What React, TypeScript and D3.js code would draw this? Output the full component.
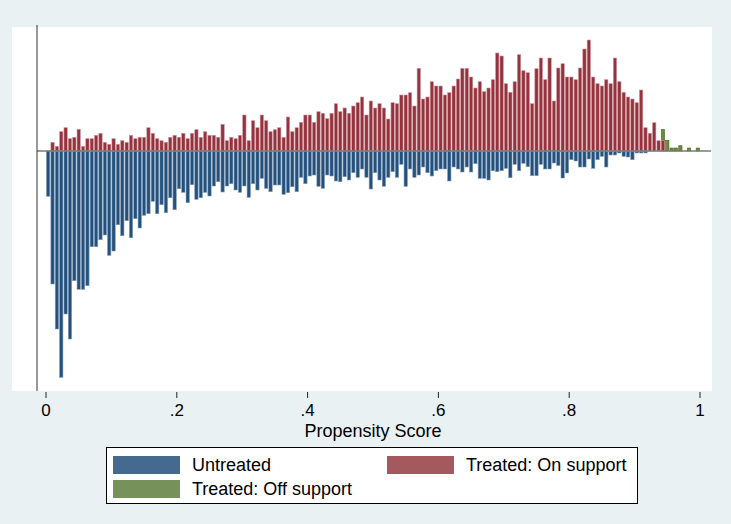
import React from 'react';
import * as d3 from 'd3';

// 150 propensity-score bins of width 1/150 over [0, 1]
const binCount = 150;

// Untreated frequencies (drawn below the zero line)
const untreated = [
  45.3, 133, 178, 226.3, 163, 188, 129.7, 138.3, 138.3, 134.7,
  95.7, 95.7, 88.7, 84, 104.3, 100, 73.7, 84.7, 69.7, 86.7,
  67.7, 77, 64.3, 62.7, 50.3, 62.7, 53.7, 61.7, 46.7, 58.7,
  37.7, 41.3, 51.7, 33.7, 48.3, 46.7, 41.3, 45, 35, 30.7,
  41, 35, 32.7, 39, 41.3, 35, 46.3, 32.7, 39, 27.3,
  37.3, 40.7, 34, 34, 43.3, 41.7, 35.7, 40.7, 26.3, 32.7,
  25, 24, 35.3, 37.3, 24, 25, 30, 30.7, 25.7, 29,
  21.7, 26.3, 18, 26.3, 38, 21.7, 29, 35.3, 26.3, 20.7,
  26.3, 13.3, 35.3, 18, 26.3, 24, 16, 21.7, 25, 19.7,
  18, 18, 30, 16, 18, 21, 16, 21, 12.7, 27.3,
  27.3, 29, 19.7, 20.7, 19.7, 17.3, 26.7, 13.3, 19.7, 12.3,
  15.7, 24.7, 24.7, 13.3, 18, 18, 12, 14.5, 27, 22,
  8.7, 10, 16, 16, 8, 17.3, 8.7, 5.3, 16, 4,
  4, 2, 5.3, 6, 8.7, 2, 2, 2, 0, 0,
  0, 0, 0, 0, 0, 0, 0, 0, 0, 0,
];

// Treated on support frequencies (drawn above the zero line)
const treatedOn = [
  0, 8.7, 4.7, 19.3, 23.3, 12.3, 13.7, 21.7, 4.7, 12.3,
  12.3, 15.7, 17.7, 8.7, 6.7, 12.3, 6.7, 10.3, 8.7, 15.7,
  12.3, 13.7, 13.7, 23.3, 17.7, 12.3, 10.3, 8.7, 13.7, 15.7,
  13.7, 17.7, 12.3, 17.7, 21.3, 13.7, 19.3, 15.7, 15.7, 13.7,
  26.7, 10.3, 13.7, 12.3, 15.7, 36, 10.3, 30.3, 23.3, 36,
  30.3, 19.3, 21.3, 23.3, 13.7, 34, 19.3, 23.3, 28.7, 36,
  36, 28.7, 39.3, 37.7, 32.3, 37.7, 47.3, 39.3, 43, 37.7,
  45, 48.3, 54, 36, 50, 43, 47.3, 43, 32, 48.3,
  47.3, 56, 56, 58.3, 45, 82.7, 52, 54, 69.3, 65,
  65, 56, 58.3, 65, 72, 82.7, 82.7, 74, 63, 69.3,
  59.3, 63, 71.3, 98, 95, 67.3, 58.7, 69.3, 96.3, 80.3,
  78.3, 47.3, 82.3, 93, 71.3, 93, 50, 83, 87.3, 74,
  74, 71.3, 83, 102, 111, 74, 67.3, 65, 71.3, 67.3,
  93, 69.3, 58.7, 54, 52, 48.3, 61, 23.3, 17.7, 28.3,
  10.3, 10.3, 0, 0, 0, 0, 0, 0, 0, 0,
];

// Treated off support frequencies (drawn above the zero line)
const treatedOff = [
  0, 0, 0, 0, 0, 0, 0, 0, 0, 0,
  0, 0, 0, 0, 0, 0, 0, 0, 0, 0,
  0, 0, 0, 0, 0, 0, 0, 0, 0, 0,
  0, 0, 0, 0, 0, 0, 0, 0, 0, 0,
  0, 0, 0, 0, 0, 0, 0, 0, 0, 0,
  0, 0, 0, 0, 0, 0, 0, 0, 0, 0,
  0, 0, 0, 0, 0, 0, 0, 0, 0, 0,
  0, 0, 0, 0, 0, 0, 0, 0, 0, 0,
  0, 0, 0, 0, 0, 0, 0, 0, 0, 0,
  0, 0, 0, 0, 0, 0, 0, 0, 0, 0,
  0, 0, 0, 0, 0, 0, 0, 0, 0, 0,
  0, 0, 0, 0, 0, 0, 0, 0, 0, 0,
  0, 0, 0, 0, 0, 0, 0, 0, 0, 0,
  0, 0, 0, 0, 0, 0, 0, 0, 0, 0,
  0, 21.7, 10.7, 3, 3, 5.3, 0, 3, 0, 3,
];

const xTicks = [0, 0.2, 0.4, 0.6, 0.8, 1];
const xTickLabels = ['0', '.2', '.4', '.6', '.8', '1'];
const xTitle = 'Propensity Score';
const legendLabels = ['Untreated', 'Treated: On support', 'Treated: Off support'];

const W = 731;
const H = 524;
const FONT = '"Liberation Sans", Arial, Helvetica, sans-serif';

const COLORS = {
  untreated: { fill: '#24507c', stroke: '#7f9bb8', legend: '#466a8f' },
  on: { fill: '#95323d', stroke: '#cc959b', legend: '#a4595f' },
  off: { fill: '#6b8a3e', stroke: '#4f6d27', legend: '#77915a' },
};

export default function App() {
  const x = d3.scaleLinear().domain([0, 1]).range([46, 700]);
  const y = d3.scaleLinear().domain([-240, 126]).range([391, 25]);
  const binW = 1 / binCount;
  const barFrac = 0.76;

  const bars = (vals: number[], sign: number, c: { fill: string; stroke: string }, key: string) =>
    vals.map((v, i) => {
      if (!v) return null;
      const x0 = x(i * binW + (binW * (1 - barFrac)) / 2);
      const x1 = x((i + 1) * binW - (binW * (1 - barFrac)) / 2);
      const ya = y(0);
      const yb = y(sign * v);
      return (
        <rect
          key={key + i}
          x={x0}
          y={Math.min(ya, yb)}
          width={x1 - x0}
          height={Math.abs(yb - ya)}
          fill={c.fill}
          stroke={c.stroke}
          strokeWidth={0.6}
        />
      );
    });

  return (
    <svg
      width={W}
      height={H}
      style={{ position: 'absolute', left: 0, top: 0, display: 'block' }}
      fontFamily={FONT}
    >
      <rect x={0} y={0} width={W} height={H} fill="#eaf1f3" />
      <rect x={12} y={27} width={700} height={364} fill="#ffffff" />

      {bars(untreated, -1, COLORS.untreated, 'u')}
      {bars(treatedOff, 1, COLORS.off, 'f')}
      {bars(treatedOn, 1, COLORS.on, 'o')}

      <line x1={37} x2={711} y1={y(0)} y2={y(0)} stroke="#7a7a7a" strokeWidth={1.5} />
      <line x1={37} x2={37} y1={y(126)} y2={y(-240)} stroke="#333" strokeWidth={1} />

      {xTicks.map((t, i) => (
        <g key={'t' + i}>
          <line x1={x(t)} x2={x(t)} y1={392} y2={398} stroke="#222" strokeWidth={1} />
          <text x={x(t)} y={416} textAnchor="middle" fontSize={17} fill="#000">
            {xTickLabels[i]}
          </text>
        </g>
      ))}
      <text x={373} y={437} textAnchor="middle" fontSize={18} fill="#000">
        {xTitle}
      </text>

      <rect x={106.5} y={447.5} width={531} height={56} fill="#fff" stroke="#000" strokeWidth={1} />
      <rect x={113} y={456} width={67} height={18} fill={COLORS.untreated.legend} />
      <text x={192} y={471} fontSize={18} fill="#000">{legendLabels[0]}</text>
      <rect x={387} y={456} width={67} height={18} fill={COLORS.on.legend} />
      <text x={466} y={471} fontSize={18} fill="#000">{legendLabels[1]}</text>
      <rect x={113} y={480} width={67} height={18} fill={COLORS.off.legend} />
      <text x={192} y={495} fontSize={18} fill="#000">{legendLabels[2]}</text>
    </svg>
  );
}
